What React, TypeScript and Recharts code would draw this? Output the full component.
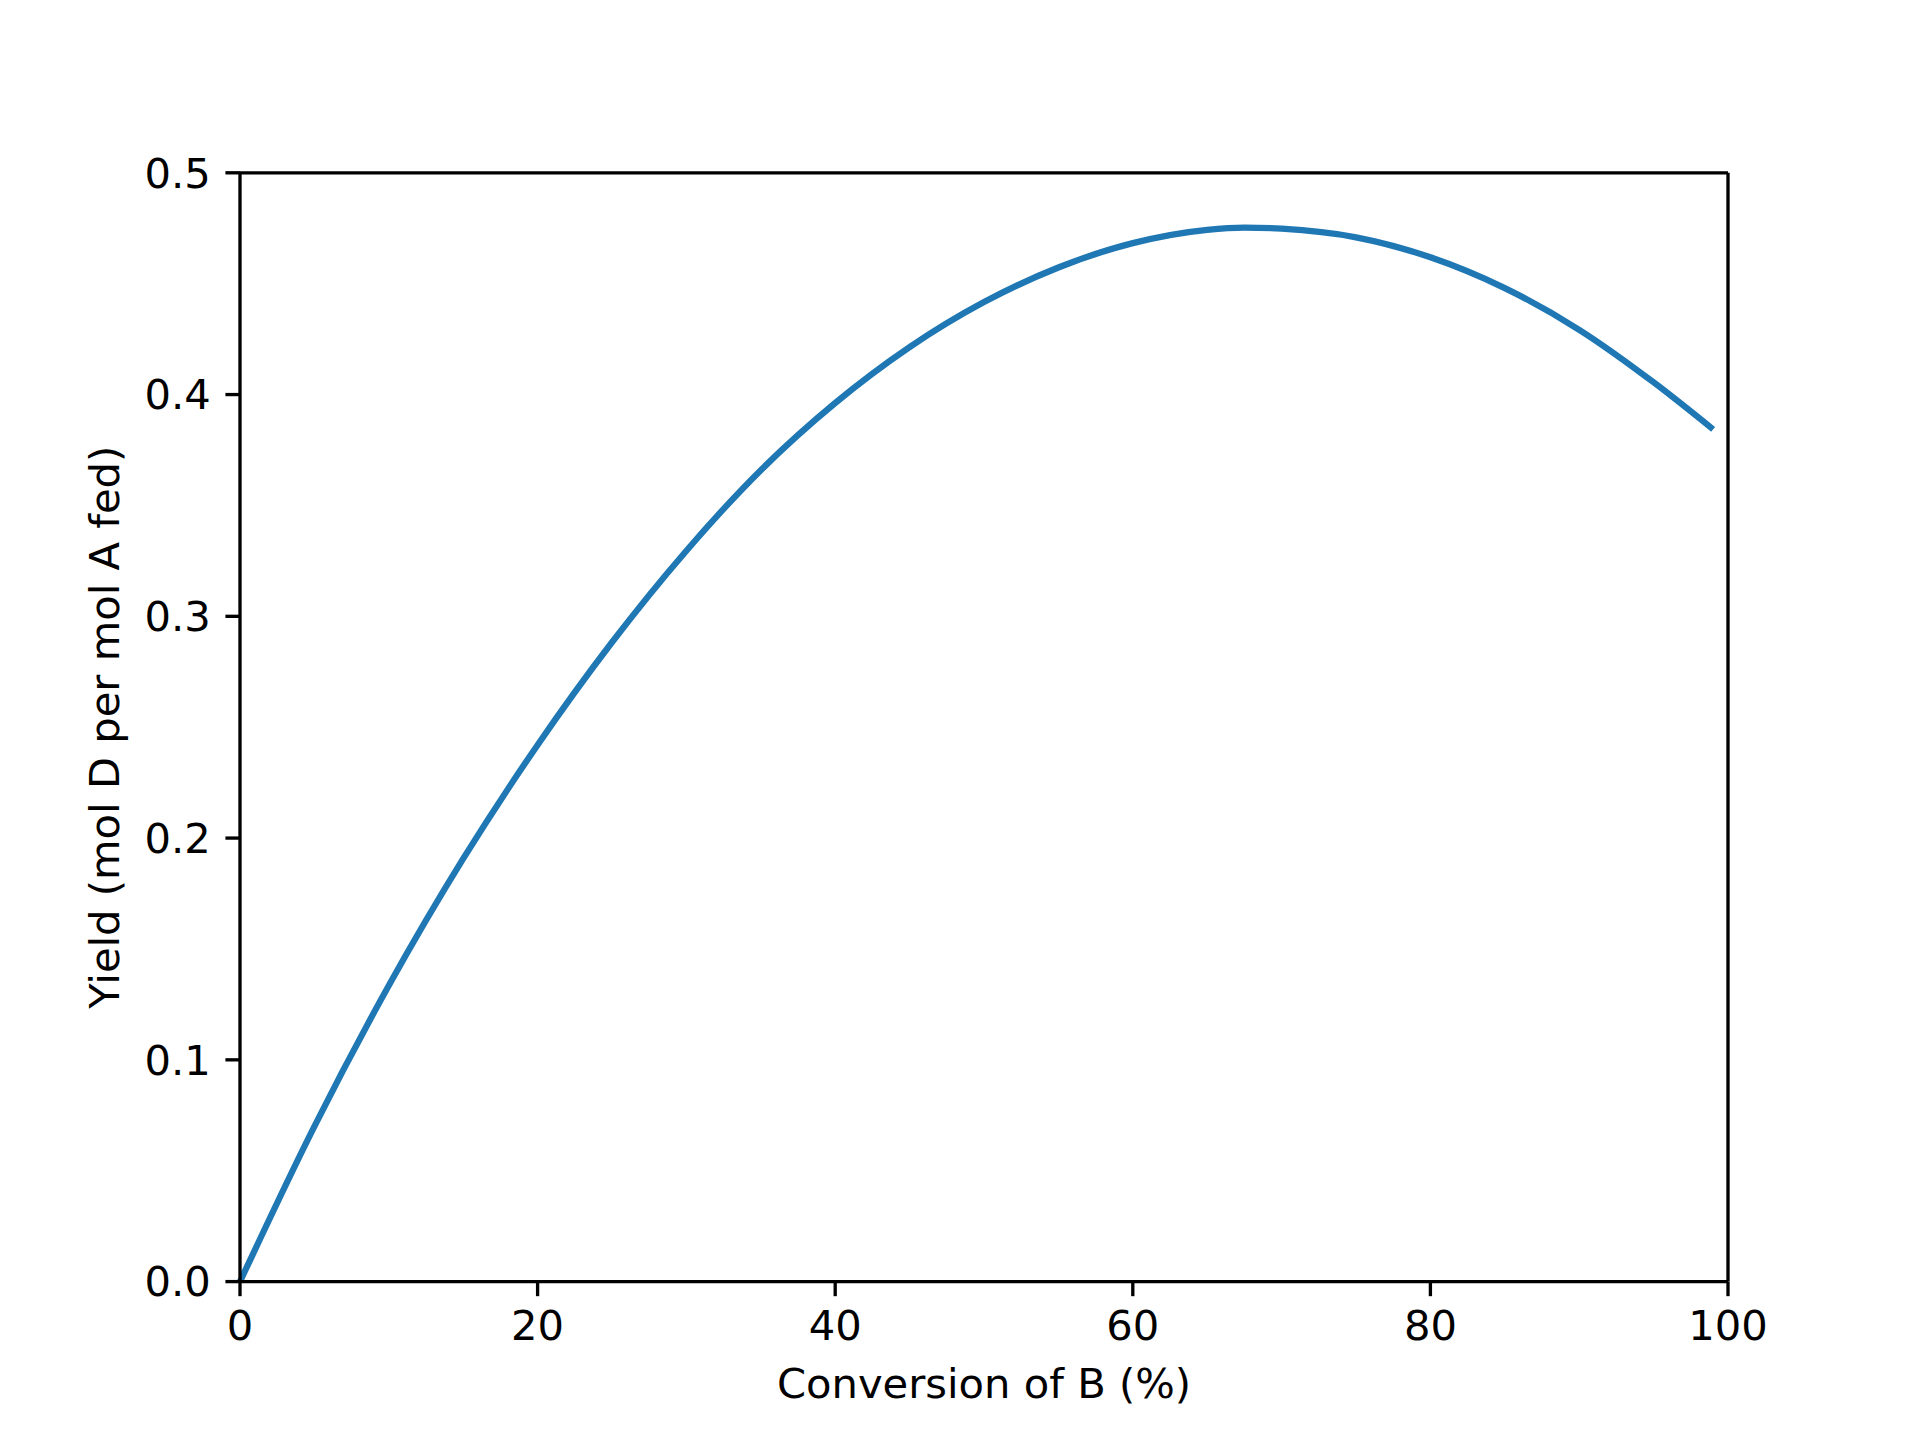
import React from "react";
import {
  LineChart,
  Line,
  XAxis,
  YAxis,
  ReferenceLine,
} from "recharts";

// conversion of B (%) and yield of D
const conversion = [
  0, 5, 10, 15, 20, 25, 30, 35, 40, 45, 50, 55, 60, 65, 67.5, 70, 75, 80, 85,
  90, 95, 99,
];
const yieldD = [
  0, 0.07, 0.1335, 0.1907, 0.242, 0.2883, 0.3296, 0.3659, 0.3962, 0.4214,
  0.4417, 0.4573, 0.4683, 0.4743, 0.4753, 0.4748, 0.4709, 0.4619, 0.448,
  0.4292, 0.4055, 0.3843,
];

const xTicks = [0, 20, 40, 60, 80, 100];
const yTicks = [0, 0.1, 0.2, 0.3, 0.4, 0.5];

const data = conversion.map((x, i) => ({ x, y: yieldD[i] }));

const FONT = "'DejaVu Sans', sans-serif";
const FS = 41.67;
const LW = 3.33;
const tickStyle = { fill: "#000", fontSize: FS, fontFamily: FONT };

export default function App() {
  return (
    <div style={{ position: "absolute", left: 0, top: 0, background: "#fff" }}>
      <LineChart
        width={1920}
        height={1440}
        data={data}
        margin={{ top: 172.8, right: 192, left: 140, bottom: 38.4 }}
      >
        <XAxis
          dataKey="x"
          type="number"
          domain={[0, 100]}
          ticks={xTicks}
          height={120}
          tick={tickStyle}
          tickSize={14.58}
          tickMargin={14.58}
          axisLine={{ stroke: "#000", strokeWidth: LW }}
          tickLine={{ stroke: "#000", strokeWidth: LW }}
          label={{
            value: "Conversion of B (%)",
            position: "insideBottom",
            offset: 3.6,
            style: { fill: "#000", fontSize: FS, fontFamily: FONT },
          }}
        />
        <YAxis
          type="number"
          domain={[0, 0.5]}
          ticks={yTicks}
          width={100}
          tick={tickStyle}
          tickSize={14.58}
          tickMargin={14.58}
          tickFormatter={(v: number) => v.toFixed(1)}
          axisLine={{ stroke: "#000", strokeWidth: LW }}
          tickLine={{ stroke: "#000", strokeWidth: LW }}
          label={{
            value: "Yield (mol D per mol A fed)",
            angle: -90,
            position: "left",
            offset: 35.3,
            style: {
              fill: "#000",
              fontSize: FS,
              fontFamily: FONT,
              textAnchor: "middle",
            },
          }}
        />
        <ReferenceLine y={0.5} stroke="#000" strokeWidth={LW} />
        <ReferenceLine x={100} stroke="#000" strokeWidth={LW} />
        <Line
          type="monotone"
          dataKey="y"
          stroke="#1f77b4"
          strokeWidth={6.25}
          dot={false}
          activeDot={false}
          isAnimationActive={false}
        />
      </LineChart>
    </div>
  );
}
